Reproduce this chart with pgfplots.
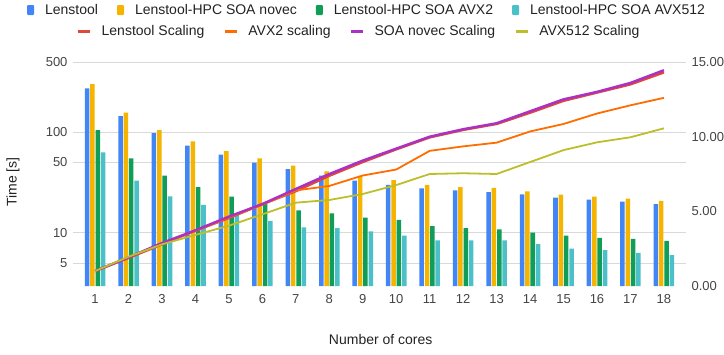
\documentclass[border=0pt]{standalone}
\usepackage{fontspec}
\setmainfont{Liberation Sans}
\usepackage{pgfplots}
\usepackage{pgfplotstable}
\pgfplotsset{compat=1.18}

\definecolor{cBlue}{HTML}{4285F4}
\definecolor{cYellow}{HTML}{F4B400}
\definecolor{cGreen}{HTML}{0F9D58}
\definecolor{cTeal}{HTML}{4BC0C8}
\definecolor{cRed}{HTML}{E0483B}
\definecolor{cOrange}{HTML}{FF6D00}
\definecolor{cPurple}{HTML}{AB30C4}
\definecolor{cOlive}{HTML}{BDBF2A}
\definecolor{gridgray}{HTML}{D9D9D9}
\definecolor{tickgray}{HTML}{444444}
\definecolor{titlegray}{HTML}{222222}

% run time in seconds per number of cores
\pgfplotstableread{
n  lenstool novec avxtwo avxfive
1  273   302   105   63
2  145   157   55    33
3  98    105   37    23
4  73.5  81    28.5  18.9
5  60    65    22.9  15.8
6  49.8  55    19.3  13.1
7  43    46.5  16.7  11.3
8  37    40.8  15.6  11.1
9  33    36.7  14.1  10.3
10 29.9  33.3  13.4  9.35
11 27.7  29.9  11.6  8.4
12 26.4  28.5  11.1  8.4
13 25.3  27.9  10.8  8.4
14 24.1  25.8  10.0  7.7
15 22.3  23.9  9.35  6.95
16 21.3  22.9  8.9   6.7
17 20.4  21.8  8.7   6.3
18 19.3  20.7  8.3   6.0
}\timedata

% speed-up relative to one core
\pgfplotstableread{
n  lens   novec  avxtwo avxfive
1  1      1      1      1
2  1.88   1.92   1.91   1.96
3  2.79   2.88   2.84   2.79
4  3.71   3.73   3.68   3.42
5  4.55   4.65   4.59   4.04
6  5.48   5.49   5.44   4.80
7  6.35   6.50   6.40   5.58
8  7.38   7.50   6.70   5.76
9  8.30   8.40   7.40   6.16
10 9.15   9.20   7.80   6.76
11 9.95   10.00  9.05   7.50
12 10.45  10.50  9.35   7.55
13 10.85  10.90  9.60   7.50
14 11.60  11.70  10.35  8.30
15 12.40  12.50  10.85  9.10
16 12.95  13.00  11.55  9.62
17 13.50  13.60  12.10  9.96
18 14.30  14.45  12.60  10.56
}\scaledata

\begin{document}
\begin{tikzpicture}[font=\fontsize{14}{16}\selectfont]
\pgfplotsset{
  base/.style={
    at={(0,0)}, anchor=south west, scale only axis,
    width=613pt, height=224pt, xmin=0.34, xmax=18.66,
    axis line style={draw=none}, major tick length=0pt, minor tick length=0pt,
    /pgf/number format/assume math mode=true,
    tick label style={font=\fontsize{13}{15}\selectfont, text=tickgray},
    legend cell align=left,
  },
}
% run times, logarithmic left axis
\begin{axis}[base, name=main,
  ymode=log, log origin=infty, ymin=2.95, ymax=500,
  ytick={5,10,50,100,500}, yticklabels={5,10,50,100,500},
  yticklabel style={xshift=-2pt},
  ymajorgrids, grid style={draw=gridgray, line width=0.9pt},
  xtick={1,2,...,18},
  xticklabels={1,2,3,4,5,6,7,8,9,10,11,12,13,14,15,16,17,18},
  xticklabel style={yshift=-5pt},
  ybar, bar width=0.135,
  xlabel={Number of cores}, ylabel={Time [s]},
  xlabel style={at={(axis description cs:0.502,-0.237)}, anchor=center, text=titlegray},
  ylabel style={at={(axis description cs:-0.098,0.464)}, anchor=center, text=titlegray},
  legend columns=4,
  legend image code/.code={\fill[#1, draw=none, rounded corners=1pt] (0pt,-5pt) rectangle (7pt,5pt);},
  legend style={at={(axis description cs:0.478,1.232)}, anchor=center,
    draw=none, fill=none, inner sep=0pt, text=titlegray,
    nodes={inner sep=0pt},
    /tikz/every odd column/.append style={column sep=11pt},
    /tikz/every even column/.append style={column sep=19pt}},
]
\addplot[fill=cBlue, draw=none, bar shift=-0.24] table[x=n, y=lenstool]{\timedata};
\addlegendentry{Lenstool}
\addplot[fill=cYellow, draw=none, bar shift=-0.08] table[x=n, y=novec]{\timedata};
\addlegendentry{Lenstool-HPC SOA novec}
\addplot[fill=cGreen, draw=none, bar shift=0.08] table[x=n, y=avxtwo]{\timedata};
\addlegendentry{Lenstool-HPC SOA AVX2}
\addplot[fill=cTeal, draw=none, bar shift=0.24] table[x=n, y=avxfive]{\timedata};
\addlegendentry{Lenstool-HPC SOA AVX512}
\end{axis}

% speed-up, linear right axis
\begin{axis}[base,
  ymin=0, ymax=15, ytick={0,5,10,15},
  axis y line*=right, axis x line=none,
  /pgf/number format/fixed, /pgf/number format/fixed zerofill,
  /pgf/number format/precision=2,
  yticklabel style={xshift=2pt},
  legend columns=4,
  legend image code/.code={\draw[#1, line width=3pt] (0pt,0pt) -- (12pt,0pt);},
  legend style={at={(axis description cs:0.465,1.138)}, anchor=center,
    draw=none, fill=none, inner sep=0pt, text=titlegray,
    nodes={inner sep=0pt},
    /tikz/every odd column/.append style={column sep=10pt},
    /tikz/every even column/.append style={column sep=19pt}},
]
\addplot[cRed, line width=2.4pt] table[x=n, y=lens]{\scaledata};
\addlegendentry{Lenstool Scaling}
\addplot[cOrange, line width=1.8pt] table[x=n, y=avxtwo]{\scaledata};
\addlegendentry{AVX2 scaling}
\addplot[cPurple, line width=2.4pt] table[x=n, y=novec]{\scaledata};
\addlegendentry{SOA novec Scaling}
\addplot[cOlive, line width=1.8pt] table[x=n, y=avxfive]{\scaledata};
\addlegendentry{AVX512 Scaling}
\end{axis}

\pgfresetboundingbox
\path (-73pt,-68pt) rectangle (651pt,286pt);
\end{tikzpicture}
\end{document}
